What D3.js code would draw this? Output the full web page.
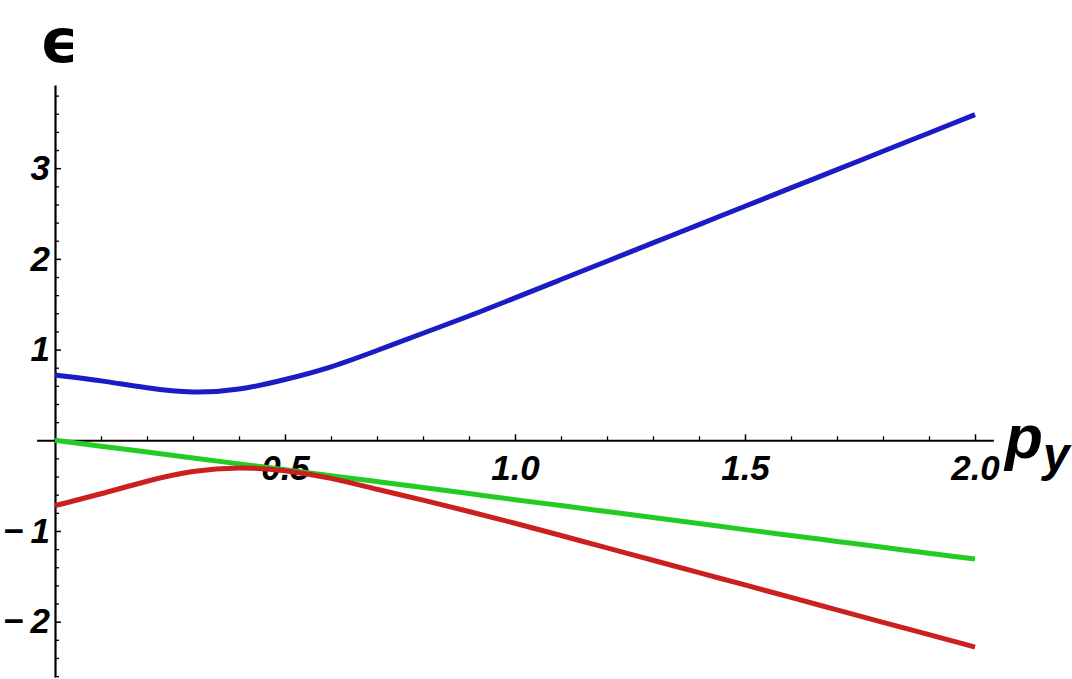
<!DOCTYPE html>
<html>
<head>
<meta charset="utf-8">
<script src="https://cdn.jsdelivr.net/npm/d3@7"></script>
<style>
  body { margin: 0; background: #fff; }
  svg { display: block; }
</style>
</head>
<body>
<svg width="1072" height="679"></svg>
<script>
// momentum values p_y
var py = [0.0, 0.1, 0.2, 0.3, 0.4, 0.5, 0.6, 0.7, 0.8, 0.9, 1.0,
          1.1, 1.2, 1.3, 1.4, 1.5, 1.6, 1.7, 1.8, 1.9, 2.0];
// three energy bands
var upperBand = [0.72, 0.655, 0.578, 0.532, 0.565, 0.67, 0.81, 0.99, 1.18, 1.37, 1.57,
                 1.772, 1.974, 2.176, 2.378, 2.58, 2.782, 2.984, 3.186, 3.388, 3.59];
var middleBand = [0.0, -0.065, -0.13, -0.195, -0.26, -0.325, -0.39, -0.455, -0.52, -0.587, -0.655,
                  -0.72, -0.786, -0.852, -0.918, -0.985, -1.05, -1.115, -1.18, -1.245, -1.31];
var lowerBand = [-0.72, -0.59, -0.452, -0.345, -0.305, -0.335, -0.42, -0.54, -0.66, -0.785, -0.915,
                 -1.05, -1.187, -1.323, -1.46, -1.595, -1.733, -1.87, -2.007, -2.143, -2.28];

var xMajor = [0.5, 1.0, 1.5, 2.0];
var yMajor = [-2, -1, 1, 2, 3];

var svg = d3.select("svg");

var x = d3.scaleLinear().domain([-0.04, 2.04]).range([36.6, 993.4]);
var y = d3.scaleLinear().domain([-2.61, 3.917]).range([677, 85]);

var fontTick = "'Liberation Sans', Arial, Helvetica, sans-serif";

function fmtY(d) {
  return d < 0 ? "\u2212\u2009" + Math.abs(d) : String(d);
}

// x axis: minor ticks every 0.1 (pointing up)
var xMinor = d3.range(1, 21).map((i) => i / 10).filter((v) => xMajor.indexOf(v) < 0);
svg.append("g")
  .attr("transform", "translate(0," + y(0) + ")")
  .call(d3.axisBottom(x).tickValues(xMinor).tickSize(-4).tickSizeOuter(0).tickFormat(""))
  .call((g) => g.select(".domain").remove())
  .selectAll("line").attr("stroke", "#000").attr("stroke-width", 1.3);

var gx = svg.append("g")
  .attr("transform", "translate(0," + y(0) + ")")
  .call(d3.axisBottom(x).tickValues(xMajor).tickSize(-6).tickSizeOuter(0)
    .tickFormat(d3.format(".1f")));
gx.select(".domain").attr("stroke", "#000").attr("stroke-width", 2.2);
gx.selectAll("line").attr("stroke", "#000").attr("stroke-width", 1.5);
gx.selectAll("text")
  .attr("y", 15)
  .attr("fill", "#000")
  .style("font-family", fontTick)
  .style("font-weight", "bold")
  .style("font-style", "italic")
  .style("font-size", "35px");

// y axis: minor ticks every 0.2 (pointing right)
var yMinorVals = d3.range(-13, 20).map((i) => i / 5).filter((v) => Math.abs(v - Math.round(v)) > 1e-6);
svg.append("g")
  .attr("transform", "translate(" + x(0) + ",0)")
  .call(d3.axisLeft(y).tickValues(yMinorVals).tickSize(-4).tickSizeOuter(0).tickFormat(""))
  .call((g) => g.select(".domain").remove())
  .selectAll("line").attr("stroke", "#000").attr("stroke-width", 1.3);

var gy = svg.append("g")
  .attr("transform", "translate(" + x(0) + ",0)")
  .call(d3.axisLeft(y).tickValues(yMajor).tickSize(-6).tickSizeOuter(0).tickFormat(fmtY));
gy.select(".domain").attr("stroke", "#000").attr("stroke-width", 2.2);
gy.selectAll("line").attr("stroke", "#000").attr("stroke-width", 1.5);
gy.selectAll("text")
  .attr("x", -5)
  .attr("fill", "#000")
  .style("font-family", fontTick)
  .style("font-weight", "bold")
  .style("font-style", "italic")
  .style("font-size", "35px");

// curves
var bands = [
  { values: upperBand, color: "#1c1cc4" },
  { values: middleBand, color: "#22cc22" },
  { values: lowerBand, color: "#cc1f1f" }
];

var line = d3.line()
  .x((d, i) => x(py[i]))
  .y((d) => y(d))
  .curve(d3.curveNatural);

svg.append("g")
  .selectAll("path")
  .data(bands)
  .enter()
  .append("path")
  .attr("d", (b) => line(b.values))
  .attr("fill", "none")
  .attr("stroke", (b) => b.color)
  .attr("stroke-width", 5)
  .attr("stroke-linecap", "butt");

// axis labels
svg.append("text")
  .attr("x", 40)
  .attr("y", 62)
  .style("font-family", "'DejaVu Sans', sans-serif")
  .style("font-weight", "bold")
  .style("font-size", "60px")
  .text("\u03f5");

var lab = svg.append("text")
  .attr("x", 1005)
  .attr("y", 458)
  .style("font-family", fontTick)
  .style("font-weight", "bold")
  .style("font-style", "italic")
  .style("font-size", "62px");
lab.append("tspan").text("p");
lab.append("tspan")
  .attr("dy", 13)
  .style("font-size", "48px")
  .text("y");
</script>
</body>
</html>
